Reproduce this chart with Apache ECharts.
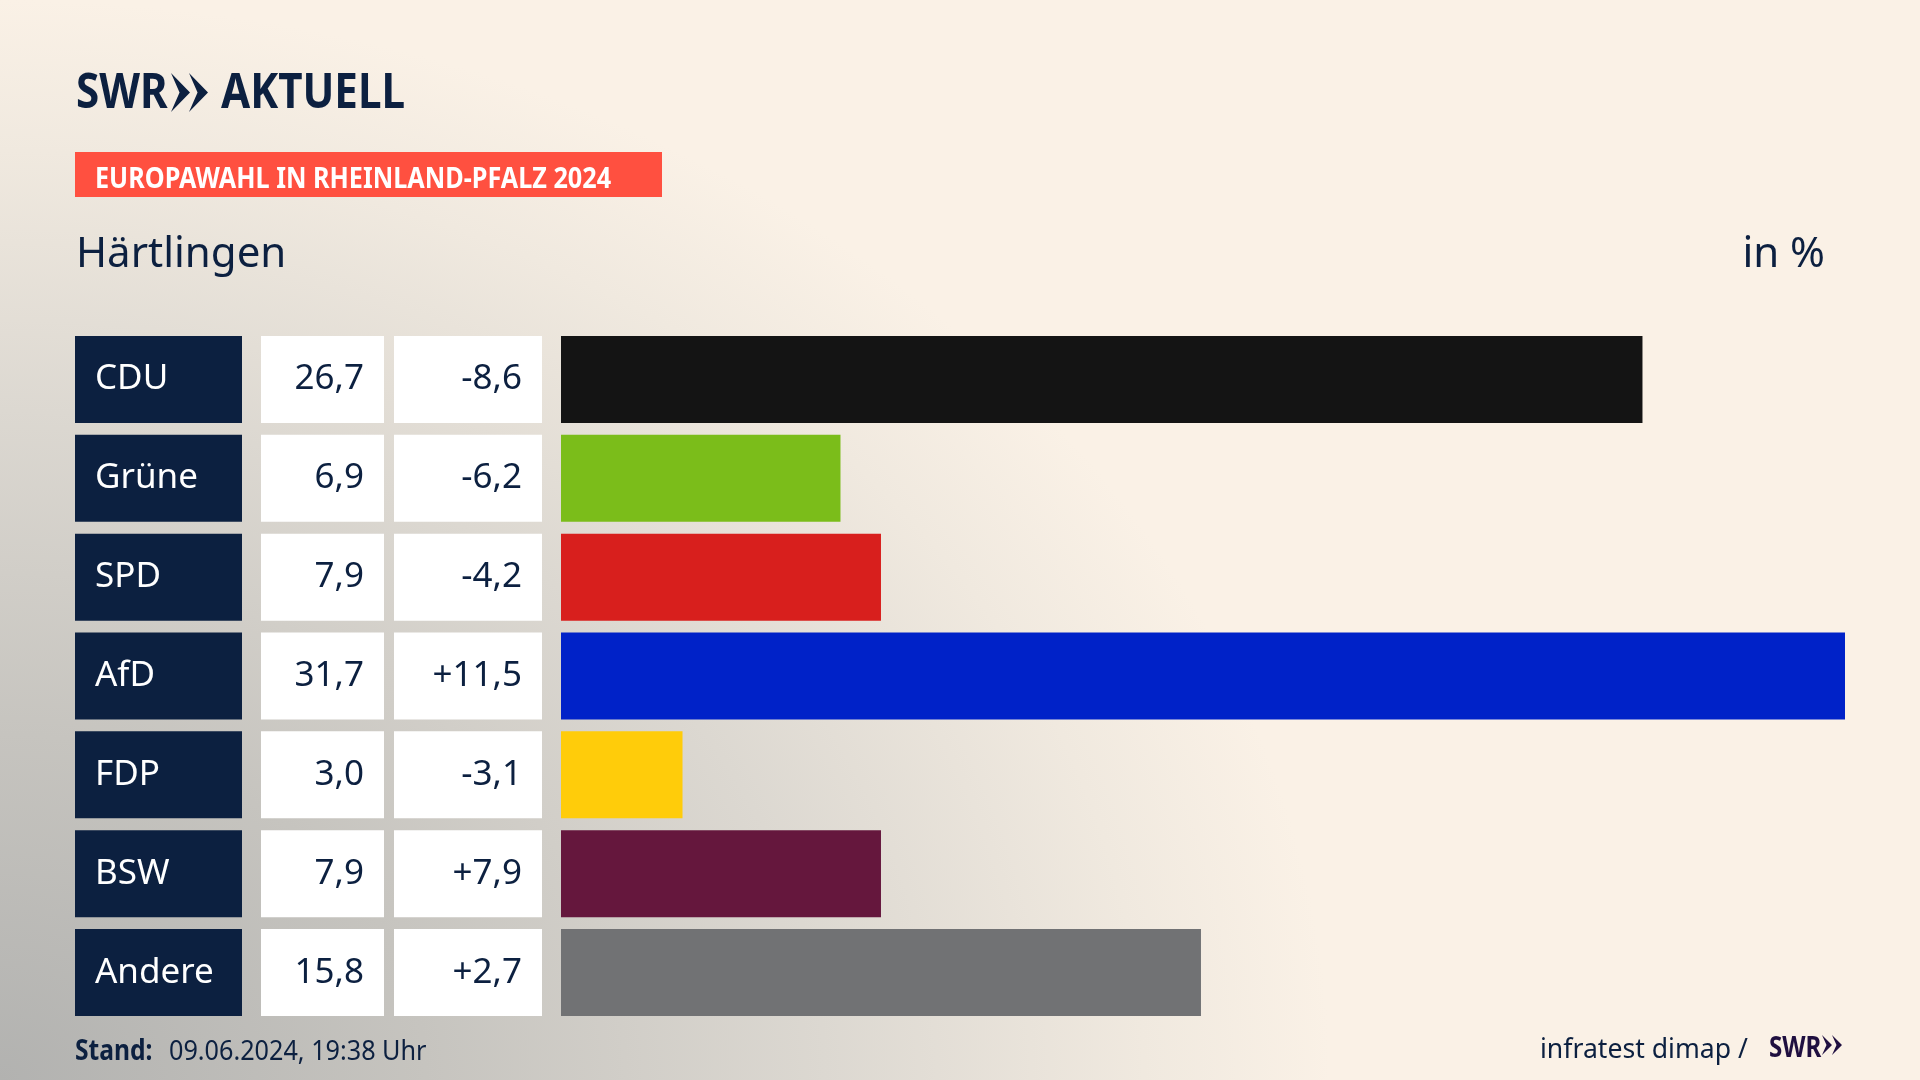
<!DOCTYPE html>
<html>
<head>
<meta charset="utf-8">
<title>Europawahl Härtlingen</title>
<script src="https://cdn.jsdelivr.net/npm/echarts@6/dist/echarts.min.js"></script>
<style>
  html, body { margin: 0; padding: 0; }
  body {
    width: 1920px; height: 1080px; overflow: hidden; background-color: #faf1e6;
    background-image: radial-gradient(ellipse 1330px 1080px at 0 1080px, #b2b2b0 0%, #c6c4bf 32%, #dcd8d1 62%, #f0e9df 86%, #faf1e6 100%);
  }
  #chart { width: 1920px; height: 1080px; }
</style>
</head>
<body>
<div id="chart"></div>
<script>
const parties = ['CDU', 'Grüne', 'SPD', 'AfD', 'FDP', 'BSW', 'Andere'];
const shares = [26.7, 6.9, 7.9, 31.7, 3.0, 7.9, 15.8];
const changes = [-8.6, -6.2, -4.2, 11.5, -3.1, 7.9, 2.7];
const barColors = ['#141414', '#7bbd1a', '#d81f1d', '#0022c8', '#ffcc0a', '#65173d', '#717274'];

const navy = '#0c2040';
const font = '"Noto Sans"';
const fmt = v => v.toFixed(1).replace('.', ',');
const fmtChange = v => (v > 0 ? '+' : '') + fmt(v);

// vier spalten, gleiche zeilen
const columns = [
  { left: 75, width: 167 },
  { left: 261, width: 123 },
  { left: 394, width: 148 },
  { left: 561, width: 1284 }
];
const grids = columns.map(c => ({ left: c.left, width: c.width, top: 330, height: 692 }));
const yAxes = columns.map((c, i) => ({
  type: 'category', gridIndex: i, data: parties, inverse: true, show: false
}));
const xAxes = columns.map((c, i) => ({
  type: 'value', gridIndex: i, min: 0, max: i === 3 ? 31.7 : 1, show: false
}));

function cellSeries(i, color, text, pos, txt) {
  return {
    type: 'bar', xAxisIndex: i, yAxisIndex: i, barWidth: 87, silent: true,
    data: parties.map(() => 1),
    itemStyle: { color },
    label: {
      show: true, position: pos, distance: 20, color: txt,
      fontFamily: font, fontSize: 35, formatter: p => text[p.dataIndex]
    }
  };
}

function chevrons(x, top, h, w, gap, fill) {
  return [0, 1].map(n => {
    const x0 = x + n * gap;
    return {
      type: 'polygon', silent: true,
      shape: { points: [[x0, top], [x0 + w, top + h / 2], [x0, top + h], [x0 + w * 0.45, top + h / 2]] },
      style: { fill }
    };
  });
}

function label(x, y, text, size, opts) {
  const o = opts || {};
  return {
    type: 'text', x, y, scaleX: o.scaleX || 1, silent: true,
    style: {
      text, fill: o.fill || navy, font: (o.bold ? 'bold ' : '') + size + 'px ' + font,
      textAlign: o.align || 'left', textVerticalAlign: 'bottom'
    }
  };
}

const chart = echarts.init(document.getElementById('chart'));
chart.setOption({
  animation: false,
  backgroundColor: 'transparent',
  grid: grids,
  xAxis: xAxes,
  yAxis: yAxes,
  series: [
    cellSeries(0, navy, parties, 'insideLeft', '#ffffff'),
    cellSeries(1, '#ffffff', shares.map(fmt), 'insideRight', navy),
    cellSeries(2, '#ffffff', changes.map(fmtChange), 'insideRight', navy),
    {
      type: 'bar', xAxisIndex: 3, yAxisIndex: 3, barWidth: 87, silent: true,
      data: shares.map((v, i) => ({ value: v, itemStyle: { color: barColors[i] } }))
    }
  ],
  graphic: [
    label(76, 119, 'SWR', 49, { bold: true, scaleX: 0.86 }),
    ...chevrons(171, 73, 39, 19, 18, navy),
    label(221, 119, 'AKTUELL', 49, { bold: true, scaleX: 0.86 }),
    { type: 'rect', shape: { x: 75, y: 152, width: 587, height: 45 }, style: { fill: '#ff5040' }, silent: true },
    label(95, 194, 'EUROPAWAHL IN RHEINLAND-PFALZ 2024', 28, { bold: true, fill: '#ffffff', scaleX: 0.9 }),
    label(76, 276, 'Härtlingen', 42),
    label(1825, 276, 'in %', 42, { align: 'right' }),
    label(75, 1066, 'Stand:', 28, { bold: true, scaleX: 0.88 }),
    label(169, 1066, '09.06.2024, 19:38 Uhr', 28, { scaleX: 0.9 }),
    label(1540, 1064, 'infratest dimap /', 28, { scaleX: 0.95 }),
    label(1769, 1063, 'SWR', 28, { bold: true, fill: '#1f0f40', scaleX: 0.86 }),
    ...chevrons(1822, 1035, 20, 10, 10, '#1f0f40')
  ]
});
</script>
</body>
</html>
